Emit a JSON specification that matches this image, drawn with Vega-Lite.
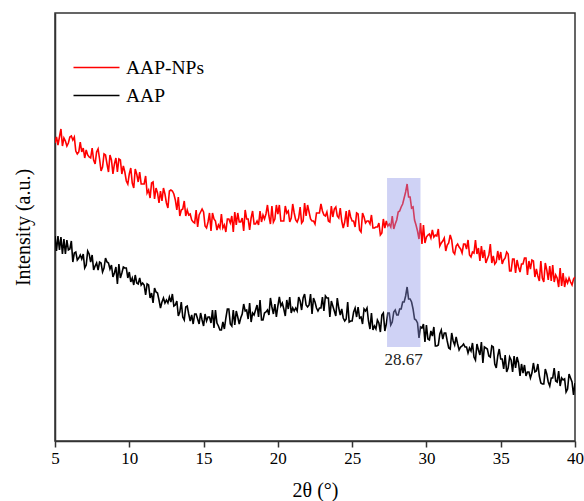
{
  "$schema": "https://vega.github.io/schema/vega-lite/v6.json",
  "autosize": {"type": "none"},
  "width": 520,
  "height": 428,
  "padding": {"left": 55, "top": 13, "right": 9, "bottom": 60},
  "background": "white",
  "config": {
    "font": "Liberation Serif",
    "view": {"stroke": "#333", "strokeWidth": 1.5},
    "axis": {"grid": false, "domainColor": "#333", "domainWidth": 1.5, "tickColor": "#333", "tickWidth": 1.5, "labelColor": "#000", "titleColor": "#000", "titleFontWeight": "normal", "labelFont": "Liberation Serif", "titleFont": "Liberation Serif"},
    "legend": {"labelFont": "Liberation Serif"},
    "text": {"font": "Liberation Serif"}
  },
  "datasets": {
    "xrd": [
{"t":5.0,"AAP-NPs":298,"AAP":205},{"t":5.1,"AAP-NPs":304,"AAP":190},{"t":5.2,"AAP-NPs":296,"AAP":205},{"t":5.3,"AAP-NPs":304,"AAP":191},{"t":5.4,"AAP-NPs":312,"AAP":204},{"t":5.5,"AAP-NPs":295,"AAP":187},{"t":5.6,"AAP-NPs":303,"AAP":202},{"t":5.7,"AAP-NPs":300,"AAP":187},{"t":5.8,"AAP-NPs":295,"AAP":201},{"t":5.9,"AAP-NPs":298,"AAP":191},
{"t":6.0,"AAP-NPs":304,"AAP":192},{"t":6.1,"AAP-NPs":305,"AAP":200},{"t":6.2,"AAP-NPs":301,"AAP":179},{"t":6.3,"AAP-NPs":304,"AAP":188},{"t":6.4,"AAP-NPs":290,"AAP":189},{"t":6.5,"AAP-NPs":287,"AAP":181},{"t":6.6,"AAP-NPs":289,"AAP":183},{"t":6.7,"AAP-NPs":299,"AAP":186},{"t":6.8,"AAP-NPs":289,"AAP":182},{"t":6.9,"AAP-NPs":293,"AAP":187},
{"t":7.0,"AAP-NPs":283,"AAP":173},{"t":7.1,"AAP-NPs":291,"AAP":176},{"t":7.2,"AAP-NPs":286,"AAP":190},{"t":7.3,"AAP-NPs":284,"AAP":187},{"t":7.4,"AAP-NPs":283,"AAP":179},{"t":7.5,"AAP-NPs":293,"AAP":186},{"t":7.6,"AAP-NPs":281,"AAP":171},{"t":7.7,"AAP-NPs":277,"AAP":175},{"t":7.8,"AAP-NPs":289,"AAP":178},{"t":7.9,"AAP-NPs":292,"AAP":171},
{"t":8.0,"AAP-NPs":282,"AAP":179},{"t":8.1,"AAP-NPs":270,"AAP":178},{"t":8.2,"AAP-NPs":274,"AAP":169},{"t":8.3,"AAP-NPs":287,"AAP":173},{"t":8.4,"AAP-NPs":286,"AAP":183},{"t":8.5,"AAP-NPs":277,"AAP":179},{"t":8.6,"AAP-NPs":269,"AAP":178},{"t":8.7,"AAP-NPs":286,"AAP":172},{"t":8.8,"AAP-NPs":281,"AAP":176},{"t":8.9,"AAP-NPs":267,"AAP":164},
{"t":9.0,"AAP-NPs":277,"AAP":168},{"t":9.1,"AAP-NPs":283,"AAP":174},{"t":9.2,"AAP-NPs":269,"AAP":157},{"t":9.3,"AAP-NPs":282,"AAP":177},{"t":9.4,"AAP-NPs":281,"AAP":163},{"t":9.5,"AAP-NPs":267,"AAP":168},{"t":9.6,"AAP-NPs":275,"AAP":174},{"t":9.7,"AAP-NPs":269,"AAP":173},{"t":9.8,"AAP-NPs":260,"AAP":173},{"t":9.9,"AAP-NPs":257,"AAP":163},
{"t":10.0,"AAP-NPs":267,"AAP":169},{"t":10.1,"AAP-NPs":273,"AAP":159},{"t":10.2,"AAP-NPs":258,"AAP":163},{"t":10.3,"AAP-NPs":253,"AAP":156},{"t":10.4,"AAP-NPs":272,"AAP":166},{"t":10.5,"AAP-NPs":267,"AAP":158},{"t":10.6,"AAP-NPs":259,"AAP":157},{"t":10.7,"AAP-NPs":269,"AAP":163},{"t":10.8,"AAP-NPs":257,"AAP":156},{"t":10.9,"AAP-NPs":257,"AAP":158},
{"t":11.0,"AAP-NPs":257,"AAP":156},{"t":11.1,"AAP-NPs":265,"AAP":146},{"t":11.2,"AAP-NPs":248,"AAP":157},{"t":11.3,"AAP-NPs":251,"AAP":156},{"t":11.4,"AAP-NPs":243,"AAP":143},{"t":11.5,"AAP-NPs":258,"AAP":148},{"t":11.6,"AAP-NPs":259,"AAP":138},{"t":11.7,"AAP-NPs":242,"AAP":153},{"t":11.8,"AAP-NPs":253,"AAP":149},{"t":11.9,"AAP-NPs":248,"AAP":148},
{"t":12.0,"AAP-NPs":238,"AAP":141},{"t":12.1,"AAP-NPs":250,"AAP":133},{"t":12.2,"AAP-NPs":240,"AAP":139},{"t":12.3,"AAP-NPs":253,"AAP":143},{"t":12.4,"AAP-NPs":247,"AAP":138},{"t":12.5,"AAP-NPs":238,"AAP":141},{"t":12.6,"AAP-NPs":233,"AAP":138},{"t":12.7,"AAP-NPs":250,"AAP":144},{"t":12.8,"AAP-NPs":251,"AAP":139},{"t":12.9,"AAP-NPs":250,"AAP":147},
{"t":13.0,"AAP-NPs":247,"AAP":135},{"t":13.1,"AAP-NPs":241,"AAP":136},{"t":13.2,"AAP-NPs":231,"AAP":140},{"t":13.3,"AAP-NPs":244,"AAP":125},{"t":13.4,"AAP-NPs":225,"AAP":129},{"t":13.5,"AAP-NPs":231,"AAP":139},{"t":13.6,"AAP-NPs":232,"AAP":124},{"t":13.7,"AAP-NPs":240,"AAP":121},{"t":13.8,"AAP-NPs":225,"AAP":134},{"t":13.9,"AAP-NPs":231,"AAP":135},
{"t":14.0,"AAP-NPs":226,"AAP":127},{"t":14.1,"AAP-NPs":227,"AAP":120},{"t":14.2,"AAP-NPs":221,"AAP":126},{"t":14.3,"AAP-NPs":219,"AAP":117},{"t":14.4,"AAP-NPs":218,"AAP":127},{"t":14.5,"AAP-NPs":231,"AAP":127},{"t":14.6,"AAP-NPs":214,"AAP":122},{"t":14.7,"AAP-NPs":226,"AAP":117},{"t":14.8,"AAP-NPs":229,"AAP":128},{"t":14.9,"AAP-NPs":232,"AAP":121},
{"t":15.0,"AAP-NPs":229,"AAP":115},{"t":15.1,"AAP-NPs":215,"AAP":127},{"t":15.2,"AAP-NPs":213,"AAP":120},{"t":15.3,"AAP-NPs":219,"AAP":124},{"t":15.4,"AAP-NPs":228,"AAP":124},{"t":15.5,"AAP-NPs":210,"AAP":118},{"t":15.6,"AAP-NPs":228,"AAP":131},{"t":15.7,"AAP-NPs":222,"AAP":113},{"t":15.8,"AAP-NPs":220,"AAP":131},{"t":15.9,"AAP-NPs":211,"AAP":118},
{"t":16.0,"AAP-NPs":216,"AAP":115},{"t":16.1,"AAP-NPs":213,"AAP":111},{"t":16.2,"AAP-NPs":227,"AAP":111},{"t":16.3,"AAP-NPs":213,"AAP":119},{"t":16.4,"AAP-NPs":216,"AAP":112},{"t":16.5,"AAP-NPs":209,"AAP":123},{"t":16.6,"AAP-NPs":222,"AAP":132},{"t":16.7,"AAP-NPs":222,"AAP":132},{"t":16.8,"AAP-NPs":218,"AAP":117},{"t":16.9,"AAP-NPs":225,"AAP":115},
{"t":17.0,"AAP-NPs":209,"AAP":131},{"t":17.1,"AAP-NPs":229,"AAP":116},{"t":17.2,"AAP-NPs":216,"AAP":130},{"t":17.3,"AAP-NPs":228,"AAP":124},{"t":17.4,"AAP-NPs":219,"AAP":117},{"t":17.5,"AAP-NPs":219,"AAP":123},{"t":17.6,"AAP-NPs":223,"AAP":127},{"t":17.7,"AAP-NPs":210,"AAP":137},{"t":17.8,"AAP-NPs":231,"AAP":130},{"t":17.9,"AAP-NPs":222,"AAP":131},
{"t":18.0,"AAP-NPs":222,"AAP":122},{"t":18.1,"AAP-NPs":211,"AAP":138},{"t":18.2,"AAP-NPs":223,"AAP":119},{"t":18.3,"AAP-NPs":230,"AAP":128},{"t":18.4,"AAP-NPs":217,"AAP":126},{"t":18.5,"AAP-NPs":217,"AAP":131},{"t":18.6,"AAP-NPs":220,"AAP":136},{"t":18.7,"AAP-NPs":216,"AAP":124},{"t":18.8,"AAP-NPs":230,"AAP":141},{"t":18.9,"AAP-NPs":219,"AAP":121},
{"t":19.0,"AAP-NPs":226,"AAP":121},{"t":19.1,"AAP-NPs":222,"AAP":128},{"t":19.2,"AAP-NPs":227,"AAP":129},{"t":19.3,"AAP-NPs":236,"AAP":131},{"t":19.4,"AAP-NPs":225,"AAP":126},{"t":19.5,"AAP-NPs":217,"AAP":143},{"t":19.6,"AAP-NPs":235,"AAP":134},{"t":19.7,"AAP-NPs":219,"AAP":127},{"t":19.8,"AAP-NPs":222,"AAP":137},{"t":19.9,"AAP-NPs":236,"AAP":124},
{"t":20.0,"AAP-NPs":227,"AAP":135},{"t":20.1,"AAP-NPs":236,"AAP":144},{"t":20.2,"AAP-NPs":220,"AAP":135},{"t":20.3,"AAP-NPs":220,"AAP":138},{"t":20.4,"AAP-NPs":220,"AAP":132},{"t":20.5,"AAP-NPs":235,"AAP":125},{"t":20.6,"AAP-NPs":228,"AAP":141},{"t":20.7,"AAP-NPs":230,"AAP":132},{"t":20.8,"AAP-NPs":219,"AAP":144},{"t":20.9,"AAP-NPs":223,"AAP":128},
{"t":21.0,"AAP-NPs":237,"AAP":133},{"t":21.1,"AAP-NPs":228,"AAP":130},{"t":21.2,"AAP-NPs":221,"AAP":133},{"t":21.3,"AAP-NPs":219,"AAP":130},{"t":21.4,"AAP-NPs":223,"AAP":144},{"t":21.5,"AAP-NPs":234,"AAP":140},{"t":21.6,"AAP-NPs":218,"AAP":131},{"t":21.7,"AAP-NPs":220,"AAP":143},{"t":21.8,"AAP-NPs":238,"AAP":147},{"t":21.9,"AAP-NPs":225,"AAP":136},
{"t":22.0,"AAP-NPs":236,"AAP":134},{"t":22.1,"AAP-NPs":229,"AAP":136},{"t":22.2,"AAP-NPs":222,"AAP":147},{"t":22.3,"AAP-NPs":220,"AAP":127},{"t":22.4,"AAP-NPs":220,"AAP":143},{"t":22.5,"AAP-NPs":217,"AAP":139},{"t":22.6,"AAP-NPs":228,"AAP":133},{"t":22.7,"AAP-NPs":228,"AAP":130},{"t":22.8,"AAP-NPs":228,"AAP":133},{"t":22.9,"AAP-NPs":237,"AAP":133},
{"t":23.0,"AAP-NPs":230,"AAP":144},{"t":23.1,"AAP-NPs":226,"AAP":130},{"t":23.2,"AAP-NPs":225,"AAP":145},{"t":23.3,"AAP-NPs":229,"AAP":143},{"t":23.4,"AAP-NPs":220,"AAP":143},{"t":23.5,"AAP-NPs":219,"AAP":124},{"t":23.6,"AAP-NPs":235,"AAP":140},{"t":23.7,"AAP-NPs":224,"AAP":135},{"t":23.8,"AAP-NPs":232,"AAP":130},{"t":23.9,"AAP-NPs":234,"AAP":125},
{"t":24.0,"AAP-NPs":225,"AAP":143},{"t":24.1,"AAP-NPs":223,"AAP":133},{"t":24.2,"AAP-NPs":233,"AAP":126},{"t":24.3,"AAP-NPs":220,"AAP":132},{"t":24.4,"AAP-NPs":213,"AAP":123},{"t":24.5,"AAP-NPs":219,"AAP":120},{"t":24.6,"AAP-NPs":230,"AAP":122},{"t":24.7,"AAP-NPs":214,"AAP":139},{"t":24.8,"AAP-NPs":231,"AAP":119},{"t":24.9,"AAP-NPs":224,"AAP":120},
{"t":25.0,"AAP-NPs":220,"AAP":120},{"t":25.1,"AAP-NPs":220,"AAP":129},{"t":25.2,"AAP-NPs":214,"AAP":133},{"t":25.3,"AAP-NPs":228,"AAP":124},{"t":25.4,"AAP-NPs":227,"AAP":134},{"t":25.5,"AAP-NPs":211,"AAP":123},{"t":25.6,"AAP-NPs":209,"AAP":124},{"t":25.7,"AAP-NPs":228,"AAP":117},{"t":25.8,"AAP-NPs":224,"AAP":132},{"t":25.9,"AAP-NPs":218,"AAP":130},
{"t":26.0,"AAP-NPs":220,"AAP":133},{"t":26.1,"AAP-NPs":220,"AAP":120},{"t":26.2,"AAP-NPs":217,"AAP":112},{"t":26.3,"AAP-NPs":226,"AAP":128},{"t":26.4,"AAP-NPs":213,"AAP":111},{"t":26.5,"AAP-NPs":213,"AAP":115},{"t":26.6,"AAP-NPs":214,"AAP":112},{"t":26.7,"AAP-NPs":214,"AAP":121},{"t":26.8,"AAP-NPs":218,"AAP":118},{"t":26.9,"AAP-NPs":206,"AAP":109},
{"t":27.0,"AAP-NPs":208,"AAP":126},{"t":27.1,"AAP-NPs":222,"AAP":128},{"t":27.2,"AAP-NPs":213,"AAP":110},{"t":27.3,"AAP-NPs":220,"AAP":117},{"t":27.4,"AAP-NPs":215,"AAP":128},{"t":27.5,"AAP-NPs":217,"AAP":128},{"t":27.6,"AAP-NPs":214,"AAP":116},{"t":27.7,"AAP-NPs":225,"AAP":119},{"t":27.8,"AAP-NPs":212,"AAP":129},{"t":27.9,"AAP-NPs":217,"AAP":131},
{"t":28.0,"AAP-NPs":221,"AAP":126},{"t":28.1,"AAP-NPs":229,"AAP":126},{"t":28.2,"AAP-NPs":230,"AAP":132},{"t":28.3,"AAP-NPs":234,"AAP":132},{"t":28.4,"AAP-NPs":237,"AAP":139},{"t":28.5,"AAP-NPs":243,"AAP":139},{"t":28.6,"AAP-NPs":249,"AAP":145},{"t":28.7,"AAP-NPs":257,"AAP":154},{"t":28.8,"AAP-NPs":244,"AAP":142},{"t":28.9,"AAP-NPs":244,"AAP":142},
{"t":29.0,"AAP-NPs":233,"AAP":139},{"t":29.1,"AAP-NPs":234,"AAP":132},{"t":29.2,"AAP-NPs":221,"AAP":122},{"t":29.3,"AAP-NPs":216,"AAP":121},{"t":29.4,"AAP-NPs":210,"AAP":118},{"t":29.5,"AAP-NPs":202,"AAP":103},{"t":29.6,"AAP-NPs":218,"AAP":114},{"t":29.7,"AAP-NPs":197,"AAP":113},{"t":29.8,"AAP-NPs":216,"AAP":117},{"t":29.9,"AAP-NPs":198,"AAP":99},
{"t":30.0,"AAP-NPs":204,"AAP":116},{"t":30.1,"AAP-NPs":206,"AAP":102},{"t":30.2,"AAP-NPs":207,"AAP":101},{"t":30.3,"AAP-NPs":203,"AAP":110},{"t":30.4,"AAP-NPs":211,"AAP":105},{"t":30.5,"AAP-NPs":204,"AAP":114},{"t":30.6,"AAP-NPs":206,"AAP":95},{"t":30.7,"AAP-NPs":205,"AAP":95},{"t":30.8,"AAP-NPs":212,"AAP":96},{"t":30.9,"AAP-NPs":195,"AAP":107},
{"t":31.0,"AAP-NPs":198,"AAP":111},{"t":31.1,"AAP-NPs":200,"AAP":102},{"t":31.2,"AAP-NPs":203,"AAP":108},{"t":31.3,"AAP-NPs":190,"AAP":108},{"t":31.4,"AAP-NPs":196,"AAP":100},{"t":31.5,"AAP-NPs":198,"AAP":93},{"t":31.6,"AAP-NPs":206,"AAP":92},{"t":31.7,"AAP-NPs":201,"AAP":108},{"t":31.8,"AAP-NPs":189,"AAP":100},{"t":31.9,"AAP-NPs":187,"AAP":96},
{"t":32.0,"AAP-NPs":195,"AAP":104},{"t":32.1,"AAP-NPs":197,"AAP":97},{"t":32.2,"AAP-NPs":194,"AAP":91},{"t":32.3,"AAP-NPs":192,"AAP":94},{"t":32.4,"AAP-NPs":188,"AAP":95},{"t":32.5,"AAP-NPs":197,"AAP":97},{"t":32.6,"AAP-NPs":197,"AAP":94},{"t":32.7,"AAP-NPs":192,"AAP":94},{"t":32.8,"AAP-NPs":201,"AAP":88},{"t":32.9,"AAP-NPs":186,"AAP":93},
{"t":33.0,"AAP-NPs":184,"AAP":90},{"t":33.1,"AAP-NPs":189,"AAP":98},{"t":33.2,"AAP-NPs":188,"AAP":84},{"t":33.3,"AAP-NPs":201,"AAP":81},{"t":33.4,"AAP-NPs":187,"AAP":97},{"t":33.5,"AAP-NPs":193,"AAP":91},{"t":33.6,"AAP-NPs":180,"AAP":86},{"t":33.7,"AAP-NPs":195,"AAP":99},{"t":33.8,"AAP-NPs":183,"AAP":78},{"t":33.9,"AAP-NPs":191,"AAP":94},
{"t":34.0,"AAP-NPs":178,"AAP":93},{"t":34.1,"AAP-NPs":182,"AAP":92},{"t":34.2,"AAP-NPs":186,"AAP":85},{"t":34.3,"AAP-NPs":197,"AAP":84},{"t":34.4,"AAP-NPs":178,"AAP":95},{"t":34.5,"AAP-NPs":185,"AAP":94},{"t":34.6,"AAP-NPs":177,"AAP":77},{"t":34.7,"AAP-NPs":179,"AAP":73},{"t":34.8,"AAP-NPs":190,"AAP":85},{"t":34.9,"AAP-NPs":181,"AAP":92},
{"t":35.0,"AAP-NPs":189,"AAP":82},{"t":35.1,"AAP-NPs":177,"AAP":82},{"t":35.2,"AAP-NPs":181,"AAP":72},{"t":35.3,"AAP-NPs":183,"AAP":86},{"t":35.4,"AAP-NPs":189,"AAP":69},{"t":35.5,"AAP-NPs":187,"AAP":73},{"t":35.6,"AAP-NPs":170,"AAP":84},{"t":35.7,"AAP-NPs":170,"AAP":81},{"t":35.8,"AAP-NPs":182,"AAP":69},{"t":35.9,"AAP-NPs":182,"AAP":85},
{"t":36.0,"AAP-NPs":168,"AAP":73},{"t":36.1,"AAP-NPs":181,"AAP":84},{"t":36.2,"AAP-NPs":174,"AAP":78},{"t":36.3,"AAP-NPs":169,"AAP":65},{"t":36.4,"AAP-NPs":177,"AAP":77},{"t":36.5,"AAP-NPs":177,"AAP":68},{"t":36.6,"AAP-NPs":183,"AAP":76},{"t":36.7,"AAP-NPs":183,"AAP":65},{"t":36.8,"AAP-NPs":166,"AAP":69},{"t":36.9,"AAP-NPs":180,"AAP":69},
{"t":37.0,"AAP-NPs":172,"AAP":63},{"t":37.1,"AAP-NPs":181,"AAP":68},{"t":37.2,"AAP-NPs":180,"AAP":78},{"t":37.3,"AAP-NPs":164,"AAP":69},{"t":37.4,"AAP-NPs":172,"AAP":70},{"t":37.5,"AAP-NPs":165,"AAP":77},{"t":37.6,"AAP-NPs":160,"AAP":65},{"t":37.7,"AAP-NPs":180,"AAP":58},{"t":37.8,"AAP-NPs":163,"AAP":57},{"t":37.9,"AAP-NPs":159,"AAP":57},
{"t":38.0,"AAP-NPs":178,"AAP":72},{"t":38.1,"AAP-NPs":171,"AAP":67},{"t":38.2,"AAP-NPs":161,"AAP":59},{"t":38.3,"AAP-NPs":175,"AAP":55},{"t":38.4,"AAP-NPs":160,"AAP":63},{"t":38.5,"AAP-NPs":176,"AAP":63},{"t":38.6,"AAP-NPs":159,"AAP":73},{"t":38.7,"AAP-NPs":166,"AAP":60},{"t":38.8,"AAP-NPs":163,"AAP":59},{"t":38.9,"AAP-NPs":154,"AAP":70},
{"t":39.0,"AAP-NPs":173,"AAP":55},{"t":39.1,"AAP-NPs":155,"AAP":63},{"t":39.2,"AAP-NPs":168,"AAP":61},{"t":39.3,"AAP-NPs":154,"AAP":62},{"t":39.4,"AAP-NPs":162,"AAP":49},{"t":39.5,"AAP-NPs":158,"AAP":52},{"t":39.6,"AAP-NPs":163,"AAP":67},{"t":39.7,"AAP-NPs":159,"AAP":63},{"t":39.8,"AAP-NPs":156,"AAP":59},{"t":39.9,"AAP-NPs":162,"AAP":46},
{"t":40.0,"AAP-NPs":164,"AAP":58}
    ],
    "band": [{"from": 27.35, "to": 29.6, "low": 94, "high": 263}],
    "note": [{"t": 28.46, "y": 81, "label": "28.67"}]
  },
  "layer": [
    {
      "data": {"name": "xrd"},
      "transform": [{"fold": ["AAP-NPs", "AAP"], "as": ["series", "intensity"]}],
      "mark": {"type": "line", "strokeWidth": 1.6, "clip": true},
      "encoding": {
        "x": {"field": "t", "type": "quantitative", "scale": {"domain": [5, 40], "nice": false},
          "axis": {"title": "2θ (°)", "values": [5, 7.5, 10, 12.5, 15, 17.5, 20, 22.5, 25, 27.5, 30, 32.5, 35, 37.5, 40],
            "labelExpr": "datum.value % 5 === 0 ? datum.label : ''",
            "tickSize": {"condition": {"test": "datum.value % 5 === 0", "value": 6}, "value": 3},
            "labelFontSize": 17, "labelPadding": 3, "titleFontSize": 20, "titlePadding": 14, "labelFlush": false}},
        "y": {"field": "intensity", "type": "quantitative", "scale": {"domain": [0, 428], "nice": false, "zero": false},
          "axis": {"title": "Intensity (a.u.)", "labels": false, "ticks": false, "titleFontSize": 20, "titlePadding": 22}},
        "color": {"field": "series", "type": "nominal",
          "scale": {"domain": ["AAP-NPs", "AAP"], "range": ["#ff0000", "#000000"]},
          "legend": {"title": null, "orient": "none", "legendX": 29, "legendY": 42, "symbolType": "M-2,0H2", "symbolSize": 529, "symbolStrokeWidth": 1.5, "labelFontSize": 19.5, "labelColor": "#000", "labelOffset": 17, "rowPadding": 6}},
        "detail": {"field": "series"}
      }
    },
    {
      "data": {"name": "band"},
      "mark": {"type": "rect", "color": "#8c94e6", "opacity": 0.42},
      "encoding": {
        "x": {"field": "from", "type": "quantitative"},
        "x2": {"field": "to"},
        "y": {"field": "low", "type": "quantitative"},
        "y2": {"field": "high"}
      }
    },
    {
      "data": {"name": "note"},
      "mark": {"type": "text", "fontSize": 17, "color": "#222", "baseline": "middle", "align": "center"},
      "encoding": {
        "x": {"field": "t", "type": "quantitative"},
        "y": {"field": "y", "type": "quantitative"},
        "text": {"field": "label"}
      }
    }
  ]
}
